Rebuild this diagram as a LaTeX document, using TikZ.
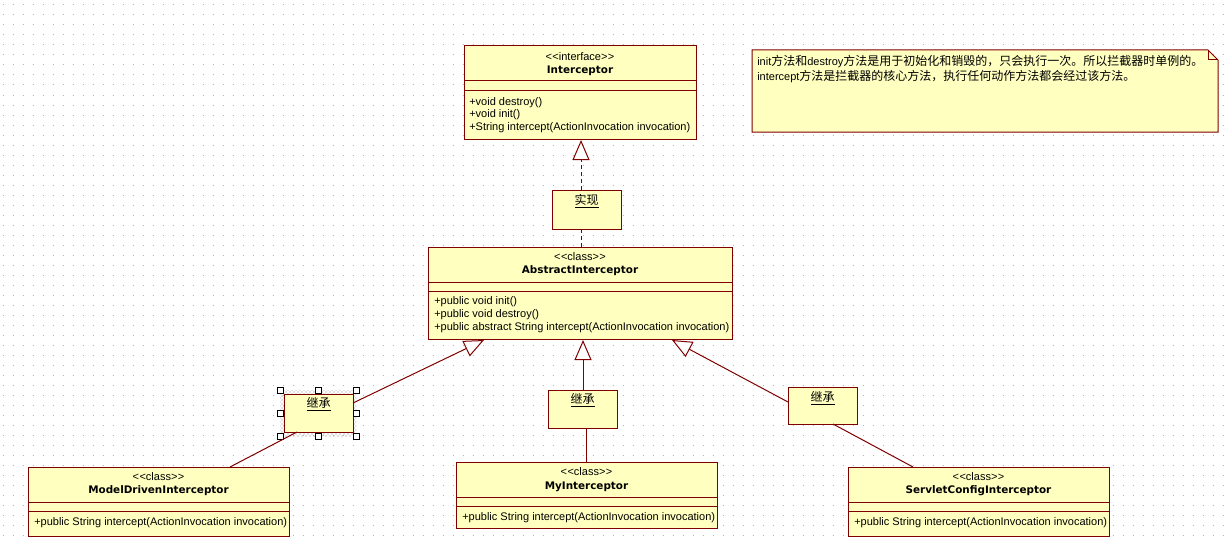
\documentclass[tikz,border=0pt]{standalone}
\usepackage{fontspec}
\setmainfont{Liberation Sans}
\newfontfamily\namefont{DejaVu Sans}
\newfontfamily\cjk{Noto Sans CJK SC}
\usetikzlibrary{arrows.meta,patterns}
\definecolor{umlred}{RGB}{128,0,0}
\definecolor{umlfill}{RGB}{255,255,192}
\definecolor{griddot}{RGB}{180,180,180}
\newcommand\zh[1]{{\cjk\fontsize{9pt}{11pt}\selectfont #1}}
\newcommand\lt{\mbox{<}\kern0.3pt\mbox{<}}
\newcommand\gt{\mbox{>}\kern0.3pt\mbox{>}}
\newcommand\umlbox[5]{\node[classbox, minimum width={(#4-#2)*0.75pt}, minimum height={(#5-#3)*0.75pt}] (#1) at ({(#2+#4)/2},{(#3+#5)/2}) {};}
\tikzset{
  classbox/.style={draw=umlred, fill=umlfill, line width=0.75pt, inner sep=0pt, outer sep=0pt},
  stereo/.style={font=\fontsize{8.25pt}{10pt}\selectfont, inner sep=0pt, anchor=mid},
  cname/.style={font=\namefont\bfseries\fontsize{7.8pt}{10pt}\selectfont, inner sep=0pt, anchor=mid},
  member/.style={font=\fontsize{8.25pt}{10pt}\selectfont, inner sep=0pt, anchor=mid west},
  notetext/.style={font=\fontsize{8.25pt}{10pt}\selectfont, inner sep=0pt, anchor=mid west},
  tag/.style={font=\cjk\fontsize{9pt}{10pt}\selectfont, inner sep=0pt, anchor=mid},
  link/.style={draw=umlred, line width=0.75pt},
  inherit/.style={link, -{Triangle[length=15pt,width=12.75pt,fill=white]}},
  realize/.style={inherit, dash pattern=on 3pt off 2.25pt},
  sep/.style={draw=umlred, line width=0.75pt},
}
\begin{document}
\begin{tikzpicture}[x=0.75pt,y=-0.75pt]
\fill[white] (0,0) rectangle (1227,542);
\useasboundingbox (0,0) rectangle (1227,542);
% grid dots
\foreach \gy in {5,15,...,535}
  \draw[griddot, line width=0.75pt, dash pattern=on 0.75pt off 6.75pt] (2.5,\gy) -- (1227,\gy);

% ---------- Interceptor ----------
\umlbox{iface}{464}{46}{696}{139}
\draw[sep] (464,81) -- (696,81);
\draw[sep] (464,90) -- (696,90);
\node[stereo] (iface-st) at (580,57) {\lt interface\gt};
\node[cname] (iface-nm) at (580,70) {Interceptor};
\node[member] (iface-m1) at (469,101.5) {+void destroy()};
\node[member] (iface-m2) at (469,114) {+void init()};
\node[member] (iface-m3) at (469,127) {+String intercept(ActionInvocation invocation)};

% ---------- Note ----------
\draw[draw=umlred, fill=umlfill, line width=0.75pt] (752,50) -- (1208,50) -- (1218,60) -- (1218,132) -- (752,132) -- cycle;
\draw[draw=umlred, line width=0.75pt] (1208,50) -- (1208,60) -- (1218,60);
\node[notetext] (note1) at (757,62) {init\zh{方法和}destroy\zh{方法是用于初始化和销毁的，只会执行一次。所以拦截器时单例的。}};
\node[notetext] (note2) at (757,77) {intercept\zh{方法是拦截器的核心方法，执行任何动作方法都会经过该方法。}};

% ---------- AbstractInterceptor ----------
\umlbox{abs}{428}{247}{732}{339}
\draw[sep] (428,282) -- (732,282);
\draw[sep] (428,291) -- (732,291);
\node[stereo] (abs-st) at (580,257) {\lt class\gt};
\node[cname] (abs-nm) at (580,270) {AbstractInterceptor};
\node[member] (abs-m1) at (434,301) {+public void init()};
\node[member] (abs-m2) at (434,313.5) {+public void destroy()};
\node[member] (abs-m3) at (434,327) {+public abstract String intercept(ActionInvocation invocation)};

% ---------- subclasses ----------
\umlbox{md}{28}{467}{289}{536}
\draw[sep] (28,502) -- (289,502);
\draw[sep] (28,511) -- (289,511);
\node[stereo] (md-st) at (158.5,477) {\lt class\gt};
\node[cname] (md-nm) at (158.5,490) {ModelDrivenInterceptor};
\node[member] (md-m1) at (34,522) {+public String intercept(ActionInvocation invocation)};

\umlbox{my}{456}{462}{717}{528}
\draw[sep] (456,497) -- (717,497);
\draw[sep] (456,506) -- (717,506);
\node[stereo] (my-st) at (586.5,472) {\lt class\gt};
\node[cname] (my-nm) at (586.5,486) {MyInterceptor};
\node[member] (my-m1) at (462,517) {+public String intercept(ActionInvocation invocation)};

\umlbox{sc}{848}{467}{1109}{536}
\draw[sep] (848,502) -- (1109,502);
\draw[sep] (848,511) -- (1109,511);
\node[stereo] (sc-st) at (978.5,477) {\lt class\gt};
\node[cname] (sc-nm) at (978.5,490) {ServletConfigInterceptor};
\node[member] (sc-m1) at (854,522) {+public String intercept(ActionInvocation invocation)};

% ---------- label boxes ----------
\umlbox{real}{552}{190}{621}{229}
\node[tag] (real-t) at (586.5,201) {\underline{实现}};

% selected label (selection frame with handles)
\fill[pattern=crosshatch dots, pattern color=gray] (280,390) rectangle (356,436);
\umlbox{inhL}{284}{394}{353}{432}
\node[tag] (inhL-t) at (318.5,404) {\underline{继承}};
\foreach \hx/\hy in {280/390,318/390,356/390,280/413,356/413,280/436,318/436,356/436}
  \filldraw[fill=white, draw=black, line width=0.6pt] (\hx-3,\hy-3) rectangle (\hx+3,\hy+3);

\umlbox{inhM}{548}{390}{617}{428}
\node[tag] (inhM-t) at (582.5,400) {\underline{继承}};

\umlbox{inhR}{788}{387}{857}{424}
\node[tag] (inhR-t) at (822.5,398) {\underline{继承}};

% ---------- connectors ----------
\coordinate (realTop) at (581,190);
\coordinate (realBot) at (581,229);
\coordinate (ifaceTip) at (581,140);
\coordinate (absTop) at (581,247);
\draw[realize] (realTop) -- (ifaceTip);
\draw[link, dash pattern=on 3pt off 2.25pt] (realBot) -- (absTop);

\coordinate (tipL) at (484,340);
\coordinate (tipM) at (583,340);
\coordinate (tipR) at (672,340);
\coordinate (inhLr) at (353,403);
\coordinate (inhLb) at (297,432);
\coordinate (mdTop) at (230,467);
\coordinate (inhMt) at (583,390);
\coordinate (inhMb) at (586,428);
\coordinate (myTop) at (586,462);
\coordinate (inhRl) at (788,402);
\coordinate (inhRb) at (833,424);
\coordinate (scTop) at (913,467);

\draw[inherit] (inhLr) -- (tipL);
\draw[link] (inhLb) -- (mdTop);
\draw[inherit] (inhMt) -- (tipM);
\draw[link] (inhMb) -- (myTop);
\draw[inherit] (inhRl) -- (tipR);
\draw[link] (inhRb) -- (scTop);
\end{tikzpicture}
\end{document}
